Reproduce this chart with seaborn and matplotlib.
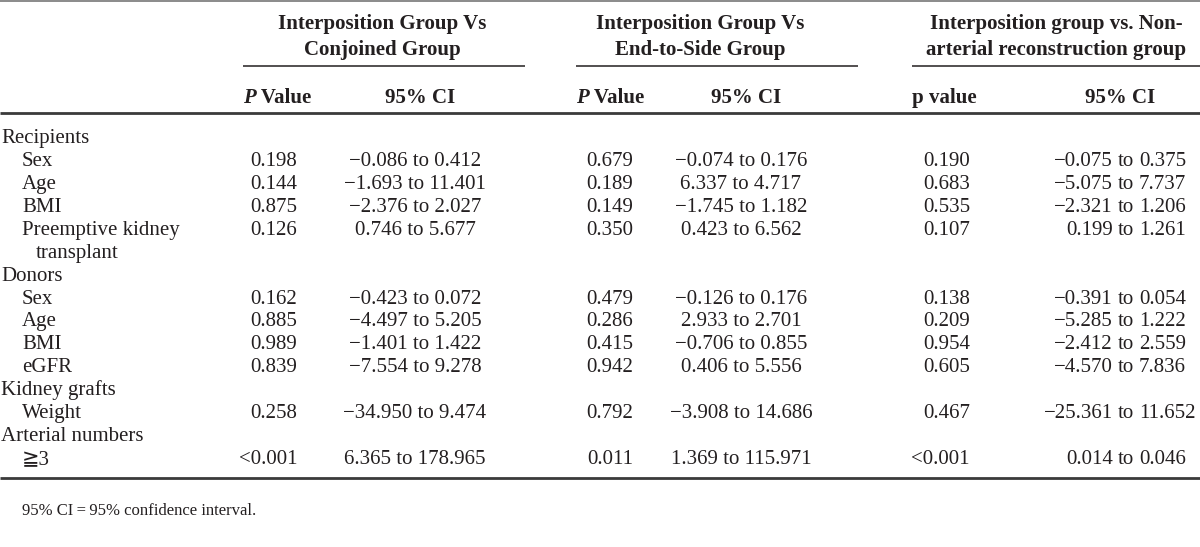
import matplotlib
matplotlib.use('Agg')
import matplotlib.pyplot as plt
import seaborn as sns

# table content
row_labels = ['Recipients', 'Sex', 'Age', 'BMI', 'Preemptive kidney', 'transplant',
              'Donors', 'Sex', 'Age', 'BMI', 'eGFR', 'Kidney grafts', 'Weight',
              'Arterial numbers', '≧3']
row_indent = [0, 1, 1, 1, 1, 2, 0, 1, 1, 1, 1, 0, 1, 0, 1]

group_titles = ['Interposition Group Vs\nConjoined Group',
                'Interposition Group Vs\nEnd-to-Side Group',
                'Interposition group vs. Non-\narterial reconstruction group']
p_titles = ['Value', 'Value', 'p value']

p_conj = ['', '0.198', '0.144', '0.875', '0.126', '', '', '0.162', '0.885', '0.989',
          '0.839', '', '0.258', '', '<0.001']
ci_conj = [None, (-0.086, 0.412), (-1.693, 11.401), (-2.376, 2.027), (0.746, 5.677), None,
           None, (-0.423, 0.072), (-4.497, 5.205), (-1.401, 1.422), (-7.554, 9.278), None,
           (-34.950, 9.474), None, (6.365, 178.965)]

p_ets = ['', '0.679', '0.189', '0.149', '0.350', '', '', '0.479', '0.286', '0.415',
         '0.942', '', '0.792', '', '0.011']
ci_ets = [None, (-0.074, 0.176), (6.337, 4.717), (-1.745, 1.182), (0.423, 6.562), None,
          None, (-0.126, 0.176), (2.933, 2.701), (-0.706, 0.855), (0.406, 5.556), None,
          (-3.908, 14.686), None, (1.369, 115.971)]

p_nonart = ['', '0.190', '0.683', '0.535', '0.107', '', '', '0.138', '0.209', '0.954',
            '0.605', '', '0.467', '', '<0.001']
ci_nonart = [None, (-0.075, 0.375), (-5.075, 7.737), (-2.321, 1.206), (0.199, 1.261), None,
             None, (-0.391, 0.054), (-5.285, 1.222), (-2.412, 2.559), (-4.570, 7.836), None,
             (-25.361, 11.652), None, (0.014, 0.046)]

footnote = '95% CI\u2009=\u200995% confidence interval.'


def fmt(v):
    return f'{v:.3f}'.replace('-', '\u2212')


sns.set_theme(style='white')
plt.rcParams['font.family'] = ['Liberation Serif', 'DejaVu Serif', 'DejaVu Sans']
plt.rcParams['text.color'] = '#231f20'

fig = plt.figure(figsize=(12, 5.47), dpi=100)
ax = fig.add_axes([0, 0, 1, 1])
ax.set_xlim(0, 1200)
ax.set_ylim(547, 0)
ax.axis('off')

fs = 15
ink = '#231f20'

# rules
ax.hlines(1, 0, 1200, color='#8a8a8a', lw=1.4)
ax.hlines(113, 0, 1200, color='#3a3a3a', lw=2.0)
ax.hlines(478, 0, 1200, color='#3a3a3a', lw=2.0)

groups = [
    dict(line=(243, 525), head=382, p_left=243, p_right=297, ci=415, mode='center',
         p=p_conj, ci_vals=ci_conj),
    dict(line=(576, 858), head=700, p_left=576, p_right=633, ci=741, mode='center',
         p=p_ets, ci_vals=ci_ets),
    dict(line=(912, 1200), head=1056, p_left=912, p_right=970, ci=1126, mode='to',
         p=p_nonart, ci_vals=ci_nonart),
]

row_y = [143 + 22.93 * i for i in range(len(row_labels))]

for gi, g in enumerate(groups):
    l1, l2 = group_titles[gi].split('\n')
    ax.text(g['head'], 29, l1, ha='center', va='baseline', fontsize=fs, fontweight='bold')
    ax.text(g['head'], 55, l2, ha='center', va='baseline', fontsize=fs, fontweight='bold')
    ax.hlines(66, g['line'][0], g['line'][1], color=ink, lw=1.1)

    if gi < 2:
        pt = ax.text(g['p_left'], 103, 'P', ha='left', va='baseline', fontsize=fs,
                     fontweight='bold', fontstyle='italic')
        ax.annotate(' ' + p_titles[gi], xy=(1, 0), xycoords=pt, ha='left', va='bottom',
                    fontsize=fs, fontweight='bold')
    else:
        ax.text(g['p_left'], 103, p_titles[gi], ha='left', va='baseline', fontsize=fs,
                fontweight='bold')
    ax.text(g['ci'] + (5 if gi < 2 else -6), 103, '95% CI', ha='center', va='baseline',
            fontsize=fs, fontweight='bold')

    for y, pv, ci in zip(row_y, g['p'], g['ci_vals']):
        if pv:
            ax.text(g['p_right'], y, pv, ha='right', va='baseline', fontsize=fs)
        if ci is None:
            continue
        if g['mode'] == 'center':
            ax.text(g['ci'], y, f'{fmt(ci[0])} to {fmt(ci[1])}', ha='center',
                    va='baseline', fontsize=fs)
        else:
            # last column lines up on the word "to"
            ax.text(g['ci'] - 13, y, fmt(ci[0]), ha='right', va='baseline', fontsize=fs)
            ax.text(g['ci'], y, 'to', ha='center', va='baseline', fontsize=fs)
            ax.text(g['ci'] + 13, y, fmt(ci[1]), ha='left', va='baseline', fontsize=fs)

indent_px = [1, 22, 36]
for y, lab, ind in zip(row_y, row_labels, row_indent):
    ax.text(indent_px[ind], y, lab, ha='left', va='baseline', fontsize=fs)

ax.text(22, 515, footnote, ha='left', va='baseline', fontsize=12)

fig.savefig('out.png', dpi=100)
